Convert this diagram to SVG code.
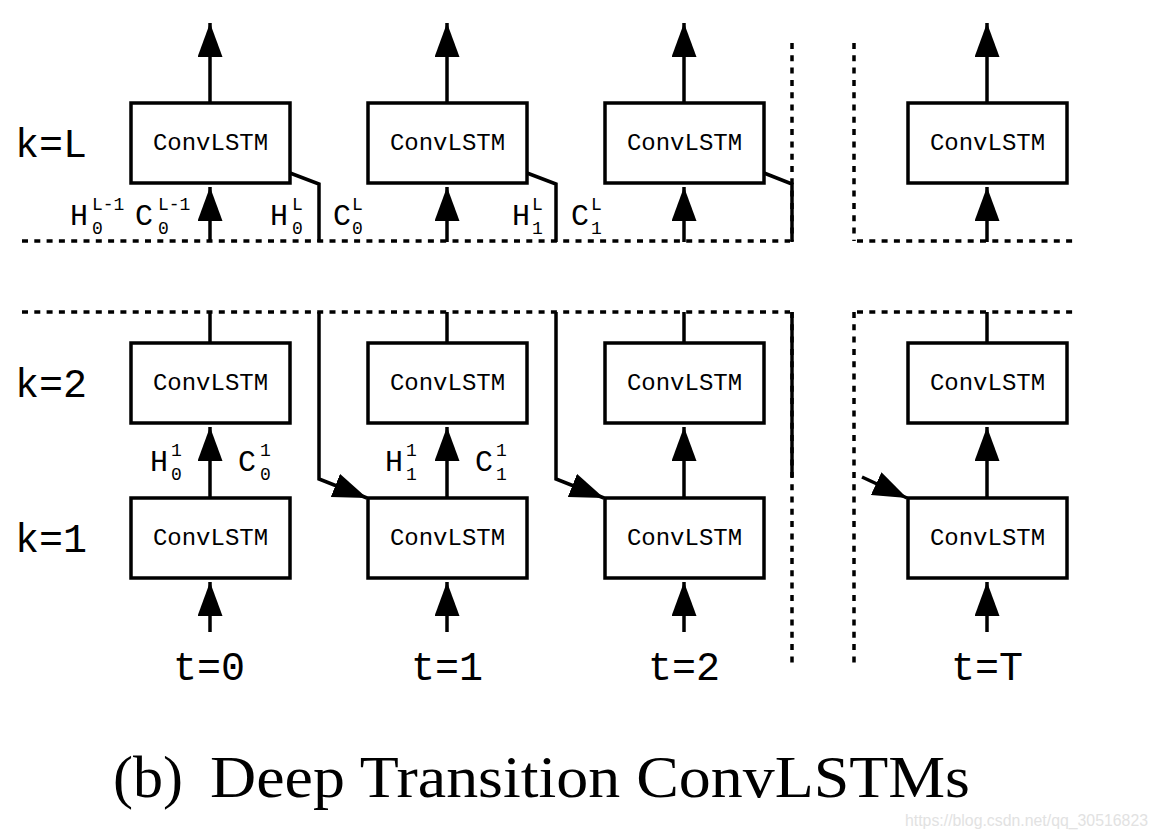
<svg xmlns="http://www.w3.org/2000/svg" width="1158" height="838" viewBox="0 0 1158 838">
<style>
.box{fill:#fff;stroke:#000;stroke-width:3.5}
.ln{fill:none;stroke:#000;stroke-width:3.5}
.arr{fill:none;stroke:#000;stroke-width:3.5;marker-end:url(#ah)}
.dot{fill:none;stroke:#000;stroke-width:3.5;stroke-dasharray:6 6.3}
.node{font-family:"Liberation Mono","DejaVu Sans Mono",monospace;font-size:24px;text-anchor:middle}
.lab{font-family:"Liberation Mono","DejaVu Sans Mono",monospace;font-size:40px}
.hc{font-family:"Liberation Mono","DejaVu Sans Mono",monospace;font-size:30px}
.sc{font-family:"Liberation Mono","DejaVu Sans Mono",monospace;font-size:18px}
.cap{font-family:"Liberation Serif","Times New Roman",serif;font-size:60px}
.wm{font-family:"Liberation Sans",Arial,sans-serif;font-size:16px;fill:#e2e2e2}
</style>
<defs>
<marker id="ah" viewBox="0 0 34 25" refX="34" refY="12.5" markerWidth="34" markerHeight="25" markerUnits="userSpaceOnUse" orient="auto">
<path d="M0,0 L34,12.5 L0,25 z" fill="#000"/>
</marker>
</defs>
<rect width="1158" height="838" fill="#fff"/>

<g id="guides">
<line class="dot" x1="22" y1="241" x2="790" y2="241"/>
<line class="dot" x1="857" y1="241" x2="1075" y2="241"/>
<line class="dot" x1="22" y1="312" x2="790" y2="312"/>
<line class="dot" x1="857" y1="312" x2="1075" y2="312"/>
<line class="dot" x1="792" y1="43" x2="792" y2="241"/>
<line class="dot" x1="792" y1="312" x2="792" y2="664"/>
<line class="dot" x1="854" y1="43" x2="854" y2="241"/>
<line class="dot" x1="854" y1="312" x2="854" y2="664"/>
</g>

<g id="connectors">
<line class="arr" x1="210" y1="103" x2="210" y2="23"/>
<line class="arr" x1="447" y1="103" x2="447" y2="23"/>
<line class="arr" x1="684" y1="103" x2="684" y2="23"/>
<line class="arr" x1="987" y1="103" x2="987" y2="23"/>
<line class="arr" x1="210" y1="242" x2="210" y2="187"/>
<line class="arr" x1="447" y1="242" x2="447" y2="187"/>
<line class="arr" x1="684" y1="242" x2="684" y2="187"/>
<line class="arr" x1="987" y1="242" x2="987" y2="187"/>
<line class="ln" x1="210" y1="343" x2="210" y2="312"/>
<line class="ln" x1="447" y1="343" x2="447" y2="312"/>
<line class="ln" x1="684" y1="343" x2="684" y2="312"/>
<line class="ln" x1="987" y1="343" x2="987" y2="312"/>
<line class="arr" x1="210" y1="498" x2="210" y2="427"/>
<line class="arr" x1="447" y1="498" x2="447" y2="427"/>
<line class="arr" x1="684" y1="498" x2="684" y2="427"/>
<line class="arr" x1="987" y1="498" x2="987" y2="427"/>
<line class="arr" x1="210" y1="632" x2="210" y2="582"/>
<line class="arr" x1="447" y1="632" x2="447" y2="582"/>
<line class="arr" x1="684" y1="632" x2="684" y2="582"/>
<line class="arr" x1="987" y1="632" x2="987" y2="582"/>
<polyline class="ln" points="290,173 319,184 319,242"/>
<polyline class="ln" points="527,173 556,184 556,242"/>
<polyline class="ln" points="764,173 792,184 792,242"/>
<polyline class="arr" points="319,312 319,479 367,498"/>
<polyline class="arr" points="556,312 556,479 604,498"/>
<line class="ln" x1="792" y1="312" x2="792" y2="477"/>
<line class="arr" x1="862" y1="477" x2="907" y2="498"/>
</g>

<g id="n-L-0"><rect class="box" x="131" y="103" width="159" height="80"/><text class="node" x="210.5" y="150">ConvLSTM</text></g>
<g id="n-L-1"><rect class="box" x="368" y="103" width="159" height="80"/><text class="node" x="447.5" y="150">ConvLSTM</text></g>
<g id="n-L-2"><rect class="box" x="605" y="103" width="159" height="80"/><text class="node" x="684.5" y="150">ConvLSTM</text></g>
<g id="n-L-T"><rect class="box" x="908" y="103" width="159" height="80"/><text class="node" x="987.5" y="150">ConvLSTM</text></g>
<g id="n-2-0"><rect class="box" x="131" y="343" width="159" height="80"/><text class="node" x="210.5" y="390">ConvLSTM</text></g>
<g id="n-2-1"><rect class="box" x="368" y="343" width="159" height="80"/><text class="node" x="447.5" y="390">ConvLSTM</text></g>
<g id="n-2-2"><rect class="box" x="605" y="343" width="159" height="80"/><text class="node" x="684.5" y="390">ConvLSTM</text></g>
<g id="n-2-T"><rect class="box" x="908" y="343" width="159" height="80"/><text class="node" x="987.5" y="390">ConvLSTM</text></g>
<g id="n-1-0"><rect class="box" x="131" y="498" width="159" height="80"/><text class="node" x="210.5" y="545">ConvLSTM</text></g>
<g id="n-1-1"><rect class="box" x="368" y="498" width="159" height="80"/><text class="node" x="447.5" y="545">ConvLSTM</text></g>
<g id="n-1-2"><rect class="box" x="605" y="498" width="159" height="80"/><text class="node" x="684.5" y="545">ConvLSTM</text></g>
<g id="n-1-T"><rect class="box" x="908" y="498" width="159" height="80"/><text class="node" x="987.5" y="545">ConvLSTM</text></g>

<g id="labels">
<text class="lab" x="15" y="157">k=L</text>
<text class="lab" x="15" y="397">k=2</text>
<text class="lab" x="15" y="552">k=1</text>
<text class="lab" x="209" y="680" text-anchor="middle">t=0</text>
<text class="lab" x="447" y="680" text-anchor="middle">t=1</text>
<text class="lab" x="684" y="680" text-anchor="middle">t=2</text>
<text class="lab" x="987" y="680" text-anchor="middle">t=T</text>

<text class="hc" x="70" y="225">H</text><text class="sc" x="92" y="210">L-1</text><text class="sc" x="92" y="234">0</text>
<text class="hc" x="135" y="225">C</text><text class="sc" x="158" y="210">L-1</text><text class="sc" x="158" y="234">0</text>
<text class="hc" x="270" y="225">H</text><text class="sc" x="292" y="210">L</text><text class="sc" x="292" y="234">0</text>
<text class="hc" x="333" y="225">C</text><text class="sc" x="352" y="210">L</text><text class="sc" x="352" y="234">0</text>
<text class="hc" x="512" y="225">H</text><text class="sc" x="532" y="210">L</text><text class="sc" x="532" y="234">1</text>
<text class="hc" x="571" y="225">C</text><text class="sc" x="591" y="210">L</text><text class="sc" x="591" y="234">1</text>

<text class="hc" x="150" y="471">H</text><text class="sc" x="171" y="456">1</text><text class="sc" x="171" y="480">0</text>
<text class="hc" x="238" y="471">C</text><text class="sc" x="260" y="456">1</text><text class="sc" x="260" y="480">0</text>
<text class="hc" x="385" y="471">H</text><text class="sc" x="406" y="456">1</text><text class="sc" x="406" y="480">1</text>
<text class="hc" x="475" y="471">C</text><text class="sc" x="496" y="456">1</text><text class="sc" x="496" y="480">1</text>

<text class="cap" x="113" y="797">(b)</text>
<text class="cap" x="210" y="797" textLength="760" lengthAdjust="spacingAndGlyphs">Deep Transition ConvLSTMs</text>
<text class="wm" x="905" y="826" textLength="243" lengthAdjust="spacingAndGlyphs">https://blog.csdn.net/qq_30516823</text>
</g>
</svg>
